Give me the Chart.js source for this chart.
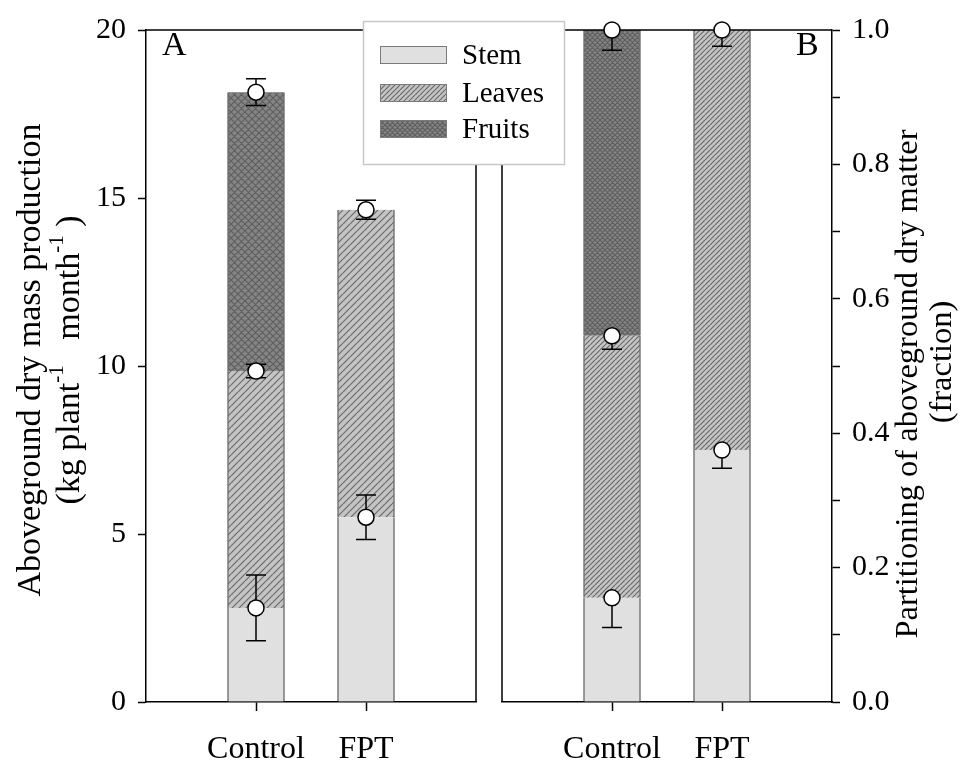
<!DOCTYPE html>
<html>
<head>
<meta charset="utf-8">
<script src="https://cdn.jsdelivr.net/npm/chart.js@4.4.1/dist/chart.umd.min.js"></script>
<style>
  html, body { margin: 0; padding: 0; background: #fff; }
  #wrap { position: relative; width: 972px; height: 765px; }
  #wrap canvas { position: absolute; left: 0; top: 0; }
</style>
</head>
<body>
<div id="wrap">
  <canvas id="mass" width="972" height="765"></canvas>
  <canvas id="part" width="972" height="765"></canvas>
</div>
<script>
// ---- data -------------------------------------------------------------
const treatments = ['Control', 'FPT'];
const seriesNames = ['Stem', 'Leaves', 'Fruits'];

// Panel A: cumulative aboveground dry mass at the top of each component (kg plant-1 month-1)
const massStemTop   = [2.8, 5.5];
const massLeavesTop = [9.85, 14.65];
const massFruitsTop = [18.15, null];
const massStemErr   = [0.98, 0.66];
const massLeavesErr = [0.2, 0.28];
const massFruitsErr = [0.4, null];
const massTickValues = [0, 5, 10, 15, 20];
const massTickLabels = ['0', '5', '10', '15', '20'];

// Panel B: cumulative partitioning fraction at the top of each component
const partStemTop   = [0.155, 0.375];
const partLeavesTop = [0.545, 1.0];
const partFruitsTop = [1.0, null];
const partStemErr   = [0.044, 0.027];
const partLeavesErr = [0.02, 0.024];
const partFruitsErr = [0.03, null];
const partTickValues = [0, 0.1, 0.2, 0.3, 0.4, 0.5, 0.6, 0.7, 0.8, 0.9, 1.0];
const partTickLabels = ['0.0', '', '0.2', '', '0.4', '', '0.6', '', '0.8', '', '1.0'];

// ---- styling helpers ---------------------------------------------------
const SERIF = '"Liberation Serif", "Times New Roman", serif';
const W = 972, H = 765;

function hatch(size, bg, fg, lw, cross) {
  const c = document.createElement('canvas');
  c.width = c.height = size;
  const g = c.getContext('2d');
  g.fillStyle = bg;
  g.fillRect(0, 0, size, size);
  g.strokeStyle = fg;
  g.lineWidth = lw;
  g.beginPath();
  for (let k = -1; k <= 1; k++) {
    g.moveTo(k * size, size); g.lineTo(k * size + size, 0);
    if (cross) { g.moveTo(k * size, 0); g.lineTo(k * size + size, size); }
  }
  g.stroke();
  return g.createPattern(c, 'repeat');
}

function fills(step) {
  return [
    '#e0e0e0',
    hatch(step, '#c4c4c4', '#6a6a6a', 1.2, false),
    hatch(step, '#858585', '#5f5f5f', 1.2, true)
  ];
}

// text with superscript runs, centred on (cx, cy), optionally rotated
function drawRich(ctx, runs, cx, cy, size, rot) {
  ctx.save();
  ctx.translate(cx, cy);
  ctx.rotate(rot);
  ctx.fillStyle = '#000';
  ctx.textBaseline = 'middle';
  ctx.textAlign = 'left';
  const supSize = Math.round(size * 0.62);
  let total = 0;
  runs.forEach(r => {
    ctx.font = (r.sup ? supSize : size) + 'px ' + SERIF;
    r.w = ctx.measureText(r.t).width;
    total += r.w;
  });
  let x = -total / 2;
  runs.forEach(r => {
    ctx.font = (r.sup ? supSize : size) + 'px ' + SERIF;
    ctx.fillText(r.t, x, r.sup ? -size * 0.38 : 0);
    x += r.w;
  });
  ctx.restore();
}

// ---- panel builder -------------------------------------------------------
function buildPanel(id, p) {
  const canvas = document.getElementById(id);
  const tops = [p.stemTop, p.leavesTop, p.fruitsTop];
  const errs = [p.stemErr, p.leavesErr, p.fruitsErr];
  const patterns = fills(p.hatchStep);

  const barSets = seriesNames.map((name, i) => ({
    type: 'bar',
    label: name,
    data: treatments.map((t, j) => {
      const hi = tops[i][j];
      if (hi == null) return null;
      const lo = i === 0 ? 0 : tops[i - 1][j];
      return { x: j + 1, y: [lo, hi] };
    }).filter(Boolean),
    backgroundColor: patterns[i],
    borderColor: '#6e6e6e',
    borderWidth: { left: 1.5, right: 1.5, top: 0, bottom: 0 },
    borderSkipped: false,
    grouped: false,
    barThickness: 57,
    order: 2
  }));

  const markerData = [];
  seriesNames.forEach((n, i) => treatments.forEach((t, j) => {
    if (tops[i][j] != null) markerData.push({ x: j + 1, y: tops[i][j] });
  }));

  const markers = {
    type: 'scatter',
    label: 'means',
    data: markerData,
    pointRadius: 8,
    pointBackgroundColor: '#fff',
    pointBorderColor: '#000',
    pointBorderWidth: 1.5,
    clip: false,
    order: 1
  };

  const framePlugin = {
    id: 'frameAndErrors',
    beforeDatasetDraw(chart, args) {
      if (args.meta.type !== 'scatter') return;
      const ctx = chart.ctx, a = chart.chartArea;
      const xs = chart.scales.x, ys = chart.scales.y;
      ctx.save();
      ctx.strokeStyle = '#000';
      ctx.lineWidth = 1.5;
      ctx.beginPath();
      ctx.moveTo(a.left, a.top); ctx.lineTo(a.right, a.top);
      const sideX = p.side === 'left' ? a.right : a.left;
      ctx.moveTo(sideX, a.top); ctx.lineTo(sideX, a.bottom);
      ctx.stroke();
      // error bars
      ctx.beginPath();
      seriesNames.forEach((n, i) => treatments.forEach((t, j) => {
        const v = tops[i][j], e = errs[i][j];
        if (v == null || e == null) return;
        const x = xs.getPixelForValue(j + 1);
        const yLo = ys.getPixelForValue(v - e);
        const yHi = ys.getPixelForValue(p.bothWays ? v + e : v);
        ctx.moveTo(x, yLo); ctx.lineTo(x, yHi);
        ctx.moveTo(x - 10, yLo); ctx.lineTo(x + 10, yLo);
        if (p.bothWays) { ctx.moveTo(x - 10, yHi); ctx.lineTo(x + 10, yHi); }
      }));
      ctx.stroke();
      ctx.restore();
    },
    afterDraw(chart) {
      const ctx = chart.ctx;
      ctx.save();
      ctx.fillStyle = '#000';
      ctx.font = '34px ' + SERIF;
      ctx.textBaseline = 'alphabetic';
      ctx.textAlign = 'left';
      ctx.fillText(p.letter, p.letterX, 55);
      ctx.restore();
      p.titles.forEach(tl => drawRich(ctx, tl.runs, tl.x, tl.y, tl.size, -Math.PI / 2));
      if (p.legend) drawLegend(ctx, patterns);
    }
  };

  return new Chart(canvas, {
    data: { datasets: [...barSets, markers] },
    options: {
      responsive: false,
      animation: false,
      events: [],
      layout: { padding: p.padding },
      plugins: { legend: { display: false }, tooltip: { enabled: false } },
      scales: {
        x: {
          type: 'linear', min: 0, max: 3, z: 1, offset: false,
          afterBuildTicks: s => { s.ticks = treatments.map((t, j) => ({ value: j + 1 })); },
          afterFit: s => { s.height = H - 702; },
          ticks: {
            callback: v => treatments[v - 1] || '',
            font: { family: SERIF, size: 32 }, color: '#000',
            padding: 19, maxRotation: 0, autoSkip: false
          },
          grid: { offset: false, drawOnChartArea: false, drawTicks: true, tickLength: 9, tickColor: '#000', tickWidth: 1.5 },
          border: { display: true, color: '#000', width: 1.5 }
        },
        y: {
          type: 'linear', position: p.side, min: p.yMin, max: p.yMax, z: 1,
          afterBuildTicks: s => { s.ticks = p.tickValues.map(v => ({ value: v })); },
          afterFit: s => { s.width = p.axisWidth; },
          ticks: {
            callback: v => {
              const k = p.tickValues.findIndex(t => Math.abs(t - v) < 1e-9);
              return k >= 0 ? p.tickLabels[k] : '';
            },
            font: { family: SERIF, size: 30 }, color: '#000',
            padding: 12, autoSkip: false
          },
          grid: { drawOnChartArea: false, drawTicks: true, tickLength: 8, tickColor: '#000', tickWidth: 1.5 },
          border: { display: true, color: '#000', width: 1.5 }
        }
      }
    },
    plugins: [framePlugin]
  });
}

function drawLegend(ctx, patterns) {
  const box = { x: 363.5, y: 21.5, w: 201, h: 143 };
  ctx.save();
  ctx.fillStyle = '#fff';
  ctx.fillRect(box.x, box.y, box.w, box.h);
  ctx.strokeStyle = '#c8c8c8';
  ctx.lineWidth = 1.5;
  ctx.strokeRect(box.x, box.y, box.w, box.h);
  const rows = [55, 93, 129];
  seriesNames.forEach((name, i) => {
    const cy = rows[i];
    ctx.fillStyle = patterns[i];
    ctx.fillRect(380, cy - 9, 67, 18);
    ctx.strokeStyle = '#7a7a7a';
    ctx.lineWidth = 1;
    ctx.strokeRect(380.5, cy - 8.5, 66, 17);
    ctx.fillStyle = '#000';
    ctx.font = '29px ' + SERIF;
    ctx.textBaseline = 'middle';
    ctx.textAlign = 'left';
    ctx.fillText(name, 462, cy + 1);
  });
  ctx.restore();
}

buildPanel('mass', {
  stemTop: massStemTop, leavesTop: massLeavesTop, fruitsTop: massFruitsTop,
  stemErr: massStemErr, leavesErr: massLeavesErr, fruitsErr: massFruitsErr,
  tickValues: massTickValues, tickLabels: massTickLabels,
  yMin: 0, yMax: 20, side: 'left', axisWidth: 146,
  padding: { left: 0, right: W - 476, top: 22, bottom: 0 },
  hatchStep: 7, bothWays: true, letter: 'A', letterX: 162, legend: false,
  titles: [
    { runs: [{ t: 'Aboveground dry mass production' }], x: 31, y: 360, size: 34 },
    { runs: [{ t: '(kg plant' }, { t: '-1', sup: true }, { t: '   month' }, { t: '-1', sup: true }, { t: ' )' }], x: 70, y: 360, size: 34 }
  ]
});

buildPanel('part', {
  stemTop: partStemTop, leavesTop: partLeavesTop, fruitsTop: partFruitsTop,
  stemErr: partStemErr, leavesErr: partLeavesErr, fruitsErr: partFruitsErr,
  tickValues: partTickValues, tickLabels: partTickLabels,
  yMin: 0, yMax: 1, side: 'right', axisWidth: W - 832,
  padding: { left: 502, right: 0, top: 22, bottom: 0 },
  hatchStep: 5, bothWays: false, letter: 'B', letterX: 796, legend: true,
  titles: [
    { runs: [{ t: 'Partitioning of aboveground dry matter' }], x: 908, y: 384, size: 32.5 },
    { runs: [{ t: '(fraction)' }], x: 942, y: 362, size: 32.5 }
  ]
});
</script>
</body>
</html>
